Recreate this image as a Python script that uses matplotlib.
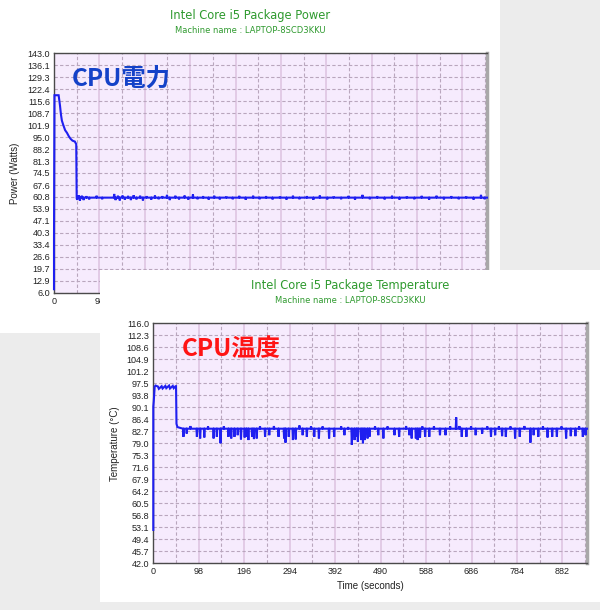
import matplotlib
matplotlib.use("Agg")
import matplotlib.pyplot as plt
from matplotlib.patches import Rectangle

# ---- data ----
time_ticks = [0, 98, 196, 294, 392, 490, 588, 686, 784, 882]
time_minor = [49, 147, 245, 343, 441, 539, 637, 735, 833, 931]
T_END = 935

power_ticks = [6.0, 12.9, 19.7, 26.6, 33.4, 40.3, 47.1, 53.9, 60.8, 67.6, 74.5,
               81.3, 88.2, 95.0, 101.9, 108.7, 115.6, 122.4, 129.3, 136.1, 143.0]
temp_ticks = [42.0, 45.7, 49.4, 53.1, 56.8, 60.5, 64.2, 67.9, 71.6, 75.3, 79.0,
              82.7, 86.4, 90.1, 93.8, 97.5, 101.2, 104.9, 108.6, 112.3, 116.0]

# first ~50 s (turbo phase), then a flat level with 1-second spikes
power_head_t = [0, 0, 1, 10, 11, 13, 15, 17, 20, 24, 28, 32, 36, 40, 45, 48, 49, 50]
power_head_v = [8.0, 36.0, 119.0, 119.0, 117.0, 113.0, 108.0, 104.5, 102.0, 99.0,
                97.5, 95.5, 94.0, 93.0, 92.5, 91.0, 60.0, 59.2]
power_base = 60.4
power_spike_t = [53, 56, 60, 64, 70, 76, 92, 104, 130, 133, 138, 142, 148, 153,
                 160, 166, 172, 178, 186, 192, 200, 210, 218, 226, 234, 244, 250,
                 262, 270, 282, 290, 300, 310, 322, 334, 346, 358, 372, 386, 400,
                 414, 430, 444, 458, 472, 488, 502, 516, 530, 546, 560, 574, 590,
                 604, 620, 636, 650, 666, 682, 698, 714, 730, 746, 762, 778, 794,
                 810, 826, 842, 858, 874, 890, 906, 922, 930]
power_spike_v = [61.8, 58.6, 61.5, 59.0, 61.2, 59.4, 61.5, 59.5, 62.5, 59.0, 61.5,
                 58.8, 61.6, 59.2, 61.4, 59.0, 61.8, 59.4, 61.5, 58.8, 61.2, 59.3,
                 61.6, 59.5, 61.2, 62.0, 59.0, 61.5, 59.4, 61.6, 59.3, 62.2, 59.5,
                 61.2, 59.3, 61.5, 59.4, 61.0, 59.5, 61.4, 59.2, 61.5, 59.5, 61.2,
                 59.4, 61.0, 59.3, 61.5, 59.5, 61.2, 59.2, 61.6, 59.4, 61.0, 59.5,
                 61.4, 59.2, 62.0, 59.5, 61.2, 59.4, 61.5, 59.3, 61.0, 59.5, 61.4,
                 59.2, 61.5, 59.4, 61.2, 59.5, 61.0, 59.3, 62.0, 59.5]

temp_head_t = [0, 0, 1, 3, 5, 10, 12, 18, 20, 26, 28, 34, 36, 42, 44, 48, 49, 50, 52]
temp_head_v = [52.3, 90.3, 92.0, 96.5, 96.8, 96.5, 95.8, 96.6, 95.9, 96.7, 96.0,
               96.8, 95.9, 96.7, 96.0, 96.6, 96.6, 85.0, 84.0]
temp_base = 83.5
temp_spike_t = [65, 72, 80, 94, 101, 110, 118, 130, 137, 145, 152, 162, 168, 175,
                182, 189, 197, 201, 205, 213, 217, 223, 230, 241, 250, 260, 270,
                282, 285, 292, 301, 307, 315, 322, 331, 340, 347, 357, 365, 379,
                390, 405, 412, 420, 428, 434, 438, 441, 448, 452, 456, 462, 466,
                478, 485, 496, 505, 520, 530, 545, 552, 557, 566, 570, 575, 580,
                586, 595, 605, 618, 630, 640, 653, 660, 665, 675, 685, 695, 709,
                720, 728, 737, 745, 752, 760, 770, 780, 790, 800, 813, 820, 830,
                840, 850, 860, 870, 880, 890, 900, 910, 918, 926, 932]
temp_spike_v = [81.0, 82.0, 84.3, 81.0, 80.5, 80.8, 84.2, 80.5, 81.0, 79.0, 84.2,
                81.0, 80.5, 81.0, 81.5, 80.2, 80.8, 81.0, 80.0, 81.0, 80.3, 80.5,
                84.2, 81.0, 81.5, 84.3, 81.0, 80.5, 79.2, 81.0, 80.0, 80.2, 84.5,
                81.5, 81.0, 84.2, 81.0, 80.5, 84.2, 80.5, 81.0, 84.2, 81.5, 84.0,
                78.5, 80.0, 81.0, 79.5, 80.0, 79.0, 80.0, 80.5, 81.0, 84.2, 81.5,
                80.5, 84.2, 81.5, 81.0, 84.3, 81.5, 80.5, 80.5, 80.0, 80.8, 84.2,
                81.0, 81.0, 84.2, 81.5, 81.5, 84.2, 87.0, 84.3, 81.0, 81.0, 84.2,
                81.5, 82.0, 84.2, 81.0, 81.5, 84.2, 81.2, 81.0, 84.2, 80.5, 81.0,
                84.3, 79.2, 81.5, 81.0, 84.2, 80.8, 81.0, 81.0, 84.2, 80.5, 81.2,
                81.2, 84.2, 81.0, 81.5]

W, H = 600, 610
TICK_FONT = ["Liberation Sans Narrow", "Liberation Sans", "DejaVu Sans"]
LINE_BLUE = "#1f1ff0"

fig = plt.figure(figsize=(W / 100, H / 100), dpi=100, facecolor="#ececec")


def trace(head_t, head_v, spike_t, spike_v, base):
    # each logged spike lasts one sample, then the line returns to the flat level
    t, v = list(head_t), list(head_v)
    for st, sv in zip(spike_t, spike_v):
        t += [st - 1, st, st + 1]
        v += [base, sv, base]
    t.append(T_END)
    v.append(base)
    return t, v


def fig_rect(x0, y0, x1, y1):
    # pixel box (top-left origin) -> figure fraction rect
    return [x0 / W, 1 - y1 / H, (x1 - x0) / W, (y1 - y0) / H]


def white_box(x0, y0, x1, y1, z):
    l, b, w, h = fig_rect(x0, y0, x1, y1)
    fig.patches.append(Rectangle((l, b), w, h, transform=fig.transFigure,
                                 facecolor="white", edgecolor="none", zorder=z))


def panel(px_box, box_cx, t, v, yticks, ylabel, title, tag, tag_x, tag_color, z):
    x0, y0, x1, y1 = px_box
    ax = fig.add_axes(fig_rect(x0, y0, x1, y1))
    ax.set_zorder(z)
    ax.set_facecolor("#f6ebfd")
    ax.set_xlim(0, T_END)
    ax.set_ylim(yticks[0], yticks[-1])
    ax.set_yticks(yticks)
    ax.set_yticklabels([f"{y:.1f}" for y in yticks])
    ax.set_xticks(time_ticks)
    ax.set_xticks(time_minor, minor=True)
    ax.tick_params(which="both", length=0, labelsize=6.5, colors="#222222", pad=3)
    for lab in ax.get_xticklabels() + ax.get_yticklabels():
        lab.set_family(TICK_FONT)
    ax.grid(True, axis="x", which="major", color="#e2cbe6", lw=1.4, ls="-")
    ax.grid(True, axis="x", which="minor", color="#b9a6bd", lw=0.8, ls=(0, (3, 2)))
    ax.grid(True, axis="y", which="major", color="#b9a6bd", lw=0.8, ls=(0, (3, 2)))
    ax.set_axisbelow(True)
    for side in ("left", "bottom", "top"):
        ax.spines[side].set_color("#4a4a4a")
        ax.spines[side].set_linewidth(1.0)
    ax.spines["right"].set_color("#a8a8a8")
    ax.spines["right"].set_linewidth(2.5)
    ax.plot(t, v, color=LINE_BLUE, lw=1.5, solid_joinstyle="miter",
            zorder=3, clip_on=False)
    ax.set_ylabel(ylabel, fontsize=7, family=TICK_FONT[1:], color="#222222", labelpad=5)

    fig.text(box_cx / W, 1 - (y0 - 37.5) / H, title, ha="center", va="center",
             fontsize=8.3, color="#2f9a2f", family="DejaVu Sans", zorder=z)
    fig.text(box_cx / W, 1 - (y0 - 23) / H, "Machine name : LAPTOP-8SCD3KKU",
             ha="center", va="center", fontsize=6, color="#2f9a2f",
             family="DejaVu Sans", zorder=z)
    ax.text(tag_x, 0.893, tag, transform=ax.transAxes, ha="left", va="center",
            fontsize=17.5, fontweight="bold", color=tag_color,
            family=["Noto Sans CJK JP", "DejaVu Sans"])
    return ax


power_t, power_v = trace(power_head_t, power_head_v, power_spike_t, power_spike_v, power_base)
temp_t, temp_v = trace(temp_head_t, temp_head_v, temp_spike_t, temp_spike_v, temp_base)

white_box(0, 0, 500, 333, -3)
ax1 = panel((54, 53.3, 487, 292.7), 250, power_t, power_v, power_ticks,
            "Power (Watts)", "Intel Core i5 Package Power", "CPU電力", 0.042,
            "#1442c8", -2)
# the lower chart hides the rest of this axis, only its first labels show
ax1.set_xticklabels(["0", "98"] + [""] * (len(time_ticks) - 2))

white_box(100, 270, 600, 602, 1)
ax2 = panel((153.3, 323.3, 587, 563.3), 350, temp_t, temp_v, temp_ticks,
            "Temperature (\u00b0C)", "Intel Core i5 Package Temperature", "CPU温度",
            0.066, "#ff1414", 2)
ax2.set_xlabel("Time (seconds)", fontsize=7, family=TICK_FONT[1:], color="#222222", labelpad=3)

fig.savefig("out.png", dpi=100, facecolor=fig.get_facecolor())
